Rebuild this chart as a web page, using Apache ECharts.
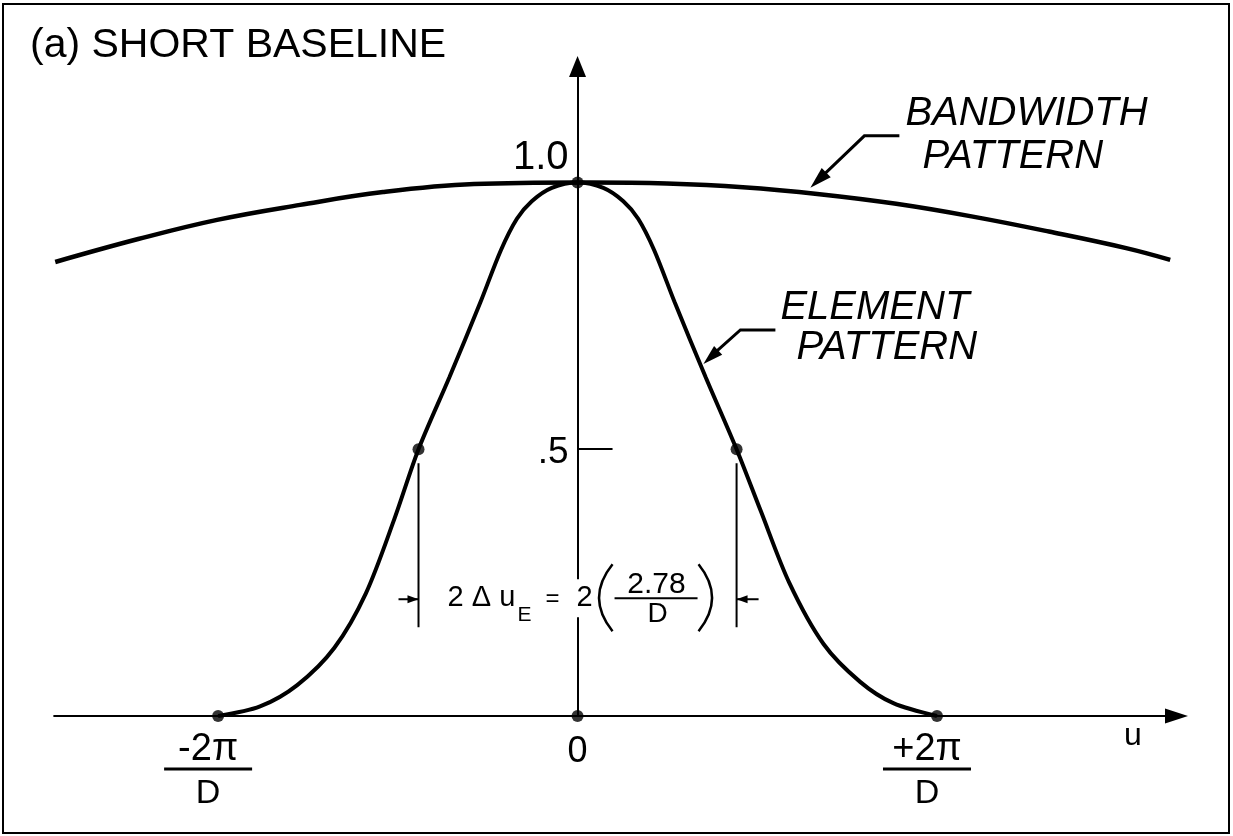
<!DOCTYPE html>
<html>
<head>
<meta charset="utf-8">
<script src="https://cdn.jsdelivr.net/npm/echarts@6/dist/echarts.min.js"></script>
<style>
  html, body { margin: 0; padding: 0; background: #fff; }
  #chart { width: 1233px; height: 836px; }
</style>
</head>
<body>
<div id="chart"></div>
<script>
// u is measured in units of 1/D (D = 1)
const TWO_PI = 2 * Math.PI;
const HALF_WIDTH = 2.78;

// Bandwidth pattern (broad, nearly flat)
const bandwidthU = [-9.13, -7.68, -6.30, -4.85, -3.40, -1.81, 0, 0.22, 1.56, 2.89, 4.23, 5.57, 6.91, 8.24, 9.59, 10.36];
const bandwidthV = [0.851, 0.894, 0.930, 0.958, 0.982, 0.997, 1.0, 1.0, 0.998, 0.991, 0.978, 0.960, 0.936, 0.908, 0.877, 0.855];

// Element pattern (main lobe between the first nulls)
const elementU = [-6.283, -5.55, -4.90, -4.25, -3.70, -3.20, -2.78, -2.24, -1.70, -1.34, -1.06, -0.80, -0.45, 0,
                  0.45, 0.80, 1.06, 1.34, 1.70, 2.24, 2.78, 3.20, 3.70, 4.30, 4.94, 5.52, 6.283];
const elementV = [0, 0.018, 0.058, 0.128, 0.23, 0.37, 0.5, 0.635, 0.775, 0.873, 0.932, 0.965, 0.99, 1.0,
                  0.99, 0.965, 0.932, 0.873, 0.775, 0.635, 0.5, 0.385, 0.25, 0.135, 0.064, 0.024, 0];

// Marked points: nulls, origin, peak and half-power points
const markerU = [-TWO_PI, 0, TWO_PI, 0, -HALF_WIDTH, HALF_WIDTH];
const markerV = [0, 0, 0, 1.0, 0.5, 0.5];

// Axis labels
const xTickU = [-TWO_PI, 0, TWO_PI];
const xTickNum = ['-2π', '0', '+2π'];
const xTickDen = ['D', '', 'D'];
const yTickV = [0.5, 1.0];
const yTickText = ['.5', '1.0'];

const FONT = '"Liberation Sans", Arial, sans-serif';

const zip = (a, b) => a.map((v, i) => [v, b[i]]);

function text(x, y, str, size, extra) {
  return {
    type: 'text',
    style: Object.assign({
      x: x, y: y, text: str, fill: '#000',
      fontSize: size, fontFamily: FONT,
      align: 'center', verticalAlign: 'middle'
    }, extra || {})
  };
}
function seg(x1, y1, x2, y2, w) {
  return { type: 'line', shape: { x1, y1, x2, y2 }, style: { stroke: '#000', lineWidth: w || 2 } };
}
function head(tx, ty, fx, fy, len, wid) {
  // filled arrowhead with tip at (tx, ty), coming from (fx, fy)
  const dx = tx - fx, dy = ty - fy, d = Math.hypot(dx, dy);
  const ux = dx / d, uy = dy / d;
  const bx = tx - ux * len, by = ty - uy * len;
  return {
    type: 'polygon',
    shape: { points: [[tx, ty], [bx - uy * wid / 2, by + ux * wid / 2], [bx + uy * wid / 2, by - ux * wid / 2]] },
    style: { fill: '#000' }
  };
}
function paren(x, yTop, yBot, bulge) {
  return {
    type: 'bezierCurve',
    shape: { x1: x, y1: yTop, x2: x, y2: yBot, cpx1: x + bulge, cpy1: (yTop + yBot) / 2 },
    style: { stroke: '#000', lineWidth: 2.5, fill: null }
  };
}

function renderNotes(params, api) {
  const c = (u, v) => api.coord([u, v]);
  const kids = [];

  // value labels left of the vertical axis
  yTickV.forEach((v, i) => {
    const p = c(0, v);
    const dy = v === 1 ? -25 : 4;
    kids.push(text(p[0] - 9, p[1] + dy, yTickText[i], v === 1 ? 40 : 37, { align: 'right' }));
  });

  // fraction tick labels under the u axis
  xTickU.forEach((u, i) => {
    const p = c(u, 0);
    if (xTickDen[i]) {
      kids.push(text(p[0] - 10, p[1] + 34, xTickNum[i], 38));
      kids.push(seg(p[0] - 54, p[1] + 53, p[0] + 34, p[1] + 53, 3));
      kids.push(text(p[0] - 10, p[1] + 78, xTickDen[i], 34));
    } else {
      kids.push(text(p[0], p[1] + 36, xTickNum[i], 36));
    }
  });
  const uLab = c(9.71, 0);
  kids.push(text(uLab[0], uLab[1] + 20, 'u', 32));

  // half-power width dimension
  const hl = c(-HALF_WIDTH, 0.5), hr = c(HALF_WIDTH, 0.5);
  const ly = hl[1] + 150;
  kids.push(seg(hl[0], hl[1] + 14, hl[0], hl[1] + 178, 2));
  kids.push(seg(hr[0], hr[1] + 14, hr[0], hr[1] + 178, 2));
  kids.push(seg(hl[0] - 20, ly, hl[0], ly, 2));
  kids.push(head(hl[0], ly, hl[0] - 20, ly, 11, 8));
  kids.push(seg(hr[0], ly, hr[0] + 22, ly, 2));
  kids.push(head(hr[0], ly, hr[0] + 22, ly, 11, 8));

  const cx = c(0, 0)[0];
  kids.push(text(cx - 130, ly - 1, '2 Δ u', 29, { align: 'left' }));
  kids.push(text(cx - 60, ly + 16, 'E', 21, { align: 'left' }));
  kids.push(text(cx - 25, ly, '=', 24));
  kids.push({ type: 'rect', shape: { x: cx - 4, y: ly - 20, width: 8, height: 38 }, style: { fill: '#fff' } });
  kids.push(text(cx + 7, ly - 1, '2', 29));
  kids.push(paren(cx + 35, ly - 35, ly + 32, -27));
  kids.push(text(cx + 79, ly - 15, '2.78', 30));
  kids.push(seg(cx + 37, ly - 1, cx + 120, ly - 1, 2));
  kids.push(text(cx + 80, ly + 15, 'D', 28));
  kids.push(paren(cx + 121, ly - 35, ly + 32, 27));

  // leader for the bandwidth pattern
  const ba = c(4.07, 0.99);
  kids.push({ type: 'polyline', shape: { points: [[ba[0] + 89, ba[1] - 52], [ba[0] + 54, ba[1] - 52], [ba[0] + 8, ba[1] - 8]] },
              style: { stroke: '#000', lineWidth: 3, fill: null } });
  kids.push(head(ba[0], ba[1], ba[0] + 54, ba[1] - 52, 22, 13));
  kids.push(text(ba[0] + 95, ba[1] - 74, 'BANDWIDTH', 40, { align: 'left', fontStyle: 'italic' }));
  kids.push(text(ba[0] + 112, ba[1] - 31, 'PATTERN', 40, { align: 'left', fontStyle: 'italic' }));

  // leader for the element pattern
  const ea = c(2.2, 0.66);
  kids.push({ type: 'polyline', shape: { points: [[ea[0] + 72, ea[1] - 34], [ea[0] + 37, ea[1] - 34], [ea[0] + 8, ea[1] - 8]] },
              style: { stroke: '#000', lineWidth: 3, fill: null } });
  kids.push(head(ea[0], ea[1], ea[0] + 37, ea[1] - 34, 20, 12));
  kids.push(text(ea[0] + 77, ea[1] - 56, 'ELEMENT', 40, { align: 'left', fontStyle: 'italic' }));
  kids.push(text(ea[0] + 93, ea[1] - 16, 'PATTERN', 40, { align: 'left', fontStyle: 'italic' }));

  return { type: 'group', children: kids };
}

const chart = echarts.init(document.getElementById('chart'), null, { renderer: 'canvas' });
chart.setOption({
  animation: false,
  backgroundColor: '#fff',
  grid: { left: 54.1, right: 56.5, top: 66.5, bottom: 120, containLabel: false, outerBoundsMode: 'none' },
  xAxis: {
    type: 'value', min: -9.15, max: 10.47,
    axisLine: { onZero: true, symbol: ['none', 'triangle'], symbolSize: [15, 23], lineStyle: { color: '#000', width: 2 } },
    axisTick: { show: false }, axisLabel: { show: false }, splitLine: { show: false }
  },
  yAxis: {
    type: 'value', min: 0, max: 1.2174,
    axisLine: { onZero: true, symbol: ['none', 'triangle'], symbolSize: [17, 21], lineStyle: { color: '#000', width: 2 } },
    axisTick: { show: true, inside: true, length: 35, customValues: [0.5], lineStyle: { color: '#000', width: 2 } },
    axisLabel: { show: false },
    splitLine: { show: false }
  },
  graphic: [
    { type: 'rect', shape: { x: 3, y: 4, width: 1226, height: 829 }, style: { stroke: '#000', lineWidth: 2, fill: null }, z: 100 },
    { type: 'text', x: 30, y: 46, style: { text: '(a) SHORT BASELINE', fontSize: 41, fontFamily: FONT, fill: '#000', verticalAlign: 'middle' } }
  ],
  series: [
    {
      name: 'Bandwidth pattern', type: 'line', data: zip(bandwidthU, bandwidthV),
      smooth: 0.4, showSymbol: false, lineStyle: { color: '#000', width: 4.5 }, z: 3
    },
    {
      name: 'Element pattern', type: 'line', data: zip(elementU, elementV),
      smooth: 0.3, showSymbol: false, lineStyle: { color: '#000', width: 4 }, z: 4
    },
    {
      name: 'Marked points', type: 'scatter', data: zip(markerU, markerV),
      symbol: 'circle', symbolSize: 12, itemStyle: { color: '#000' }, z: 6
    },
    {
      name: 'Notes', type: 'custom', data: [[0, 0]], clip: false, silent: true,
      renderItem: renderNotes, z: 5
    }
  ]
});
</script>
</body>
</html>
